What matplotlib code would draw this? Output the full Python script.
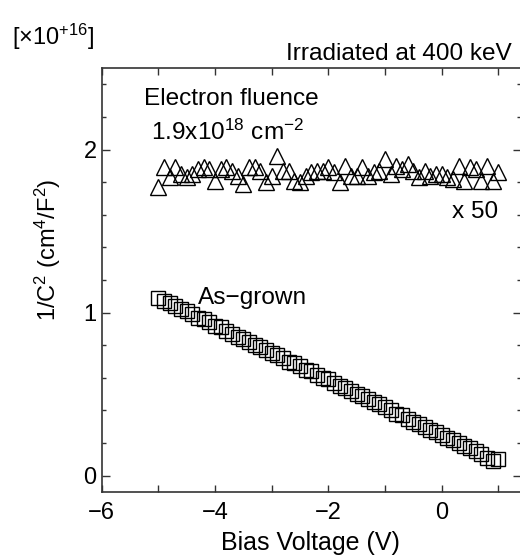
import numpy as np
import matplotlib
matplotlib.use('Agg')
import matplotlib.pyplot as plt
from matplotlib.ticker import MultipleLocator

plt.rcParams['font.family'] = ['Liberation Sans', 'DejaVu Sans']
plt.rcParams['mathtext.fontset'] = 'custom'
plt.rcParams['mathtext.rm'] = 'Liberation Sans'
plt.rcParams['mathtext.default'] = 'regular'

# bias voltage (V)
bias = [-5.0, -4.9, -4.8, -4.7, -4.6, -4.5, -4.4, -4.3, -4.2, -4.1,
        -4.0, -3.9, -3.8, -3.7, -3.6, -3.5, -3.4, -3.3, -3.2, -3.1,
        -3.0, -2.9, -2.8, -2.7, -2.6, -2.5, -2.4, -2.3, -2.2, -2.1,
        -2.0, -1.9, -1.8, -1.7, -1.6, -1.5, -1.4, -1.3, -1.2, -1.1,
        -1.0, -0.9, -0.8, -0.7, -0.6, -0.5, -0.4, -0.3, -0.2, -0.1,
        0.0, 0.1, 0.2, 0.3, 0.4, 0.5, 0.6, 0.7, 0.8, 0.9, 1.0]

# 1/C^2 as-grown (x1e16)
as_grown = [1.09, 1.07, 1.06, 1.04, 1.02, 1.01, 0.99, 0.97, 0.96, 0.94,
            0.92, 0.91, 0.89, 0.87, 0.85, 0.84, 0.82, 0.80, 0.79, 0.77,
            0.75, 0.74, 0.72, 0.70, 0.69, 0.67, 0.65, 0.64, 0.62, 0.60,
            0.59, 0.57, 0.55, 0.54, 0.52, 0.50, 0.49, 0.47, 0.45, 0.44,
            0.42, 0.40, 0.38, 0.37, 0.35, 0.33, 0.32, 0.30, 0.28, 0.27,
            0.25, 0.23, 0.22, 0.20, 0.18, 0.17, 0.15, 0.13, 0.11, 0.09, 0.10]

# 1/C^2 irradiated, already scaled x50 (x1e16)
irradiated = [1.77, 1.89, 1.83, 1.89, 1.85, 1.83, 1.85, 1.88, 1.89, 1.88,
              1.81, 1.88, 1.89, 1.87, 1.84, 1.79, 1.89, 1.89, 1.87, 1.80,
              1.84, 1.96, 1.87, 1.87, 1.81, 1.80, 1.84, 1.86, 1.87, 1.87,
              1.89, 1.86, 1.80, 1.90, 1.84, 1.84, 1.89, 1.84, 1.86, 1.87,
              1.94, 1.85, 1.90, 1.88, 1.91, 1.87, 1.83, 1.87, 1.84, 1.85,
              1.85, 1.83, 1.82, 1.90, 1.81, 1.89, 1.88, 1.81, 1.90, 1.81, 1.86]

W, H = 520, 556
fig = plt.figure(figsize=(W / 100, H / 100), dpi=100)
ax = fig.add_axes([101.5 / W, 1 - 492 / H, (521 - 101.5) / W, (492 - 68) / H])

ax.plot(bias, irradiated, linestyle='none', marker='^', markersize=11,
        markerfacecolor='none', markeredgecolor='black', markeredgewidth=1.0)
ax.plot(bias, as_grown, linestyle='none', marker='s', markersize=9.5,
        markerfacecolor='none', markeredgecolor='black', markeredgewidth=1.0)

ax.set_xlim(-6, 1.4)
ax.set_ylim(-0.1, 2.5)

ax.xaxis.set_major_locator(MultipleLocator(2))
ax.xaxis.set_minor_locator(MultipleLocator(1))
ax.yaxis.set_major_locator(MultipleLocator(1))
ax.yaxis.set_minor_locator(MultipleLocator(0.2))
ax.tick_params(which='both', direction='in', top=True, right=True,
               labelsize=17, color='#333333', width=1)
ax.tick_params(axis='x', which='both', length=5, pad=7)
ax.tick_params(axis='y', which='major', length=6)
ax.tick_params(axis='y', which='minor', length=3)
for s in ax.spines.values():
    s.set_color('#333333')
    s.set_linewidth(1.2)

fig.text(310 / W, 1 - 550 / H, 'Bias Voltage (V)', fontsize=18,
         ha='center', va='baseline')
fig.text(48 / W, 1 - 250 / H, '1/C$^2$ (cm$^4$/F$^2$)', fontsize=17,
         rotation=90, ha='center', va='center')

ax.text(-5.25, 2.276, 'Electron fluence', fontsize=17.6)
ax.text(-5.12, 2.06, '1.9x10$^{18}$ cm$^{-2}$', fontsize=17.6)
ax.text(0.99, 1.58, 'x 50', fontsize=17.6, ha='right')
ax.text(-4.3, 1.05, 'As\u2212grown', fontsize=17.6)

fig.text(12 / W, 1 - 45 / H, '[\u00d710$^{+16}$]', fontsize=17)
fig.text(512 / W, 1 - 60 / H, 'Irradiated at 400 keV', fontsize=17.6, ha='right')

fig.savefig('out.png', dpi=100)
